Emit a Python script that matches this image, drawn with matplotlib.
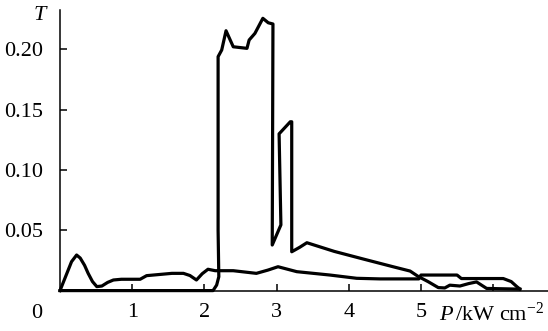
import matplotlib
matplotlib.use("Agg")
import matplotlib.pyplot as plt

plt.rcParams['font.family'] = ['Liberation Serif', 'DejaVu Serif']
plt.rcParams['mathtext.fontset'] = 'custom'
plt.rcParams['mathtext.rm'] = 'Liberation Serif'
plt.rcParams['mathtext.it'] = 'Liberation Serif:italic'

# Curve A: switching loop branch
P_a = [0, 2.12, 2.17, 2.20, 2.19, 2.19, 2.24, 2.30, 2.40, 2.59, 2.62, 2.70, 2.81, 2.885,
       2.95, 2.94, 3.06, 3.035, 3.19, 3.21, 3.21, 3.32, 3.42, 3.8, 4.2, 4.6, 4.85, 4.96,
       5.10, 5.24, 5.33, 5.40, 5.54, 5.66, 5.77, 5.84, 5.91, 6.37]
T_a = [0, 0, 0.0046, 0.0115, 0.05, 0.194, 0.1995, 0.2155, 0.2022, 0.2009, 0.2078, 0.2133,
       0.2258, 0.2221, 0.2211, 0.0378, 0.0545, 0.130, 0.140, 0.140, 0.0322, 0.0359, 0.0397,
       0.0325, 0.0262, 0.0200, 0.0162, 0.0118, 0.0074, 0.0025, 0.0022, 0.0045, 0.0038,
       0.0058, 0.0072, 0.0045, 0.0018, 0.0012]

# Curve B: lower branch
P_b = [0, 0.08, 0.16, 0.23, 0.28, 0.34, 0.39, 0.45, 0.51, 0.58, 0.66, 0.74, 0.85, 1.11,
       1.20, 1.55, 1.71, 1.80, 1.89, 1.97, 2.05, 2.15, 2.40, 2.72, 2.88, 3.02, 3.28, 3.74,
       4.11, 4.43, 4.97, 5.00, 5.50, 5.56, 6.14, 6.25, 6.33, 6.37]
T_b = [0, 0.012, 0.024, 0.0295, 0.027, 0.021, 0.0143, 0.0075, 0.0033, 0.0038, 0.0068,
       0.0088, 0.0094, 0.0094, 0.0124, 0.0143, 0.0143, 0.0125, 0.0088, 0.0140, 0.0177,
       0.0165, 0.0165, 0.0143, 0.0170, 0.0198, 0.0157, 0.0129, 0.0102, 0.0097, 0.0097,
       0.0129, 0.0129, 0.0100, 0.0100, 0.0075, 0.0032, 0.0013]

x_ticks = [1, 2, 3, 4, 5, 6]
x_labels = ['1', '2', '3', '4', '5', '']
y_ticks = [0.05, 0.10, 0.15, 0.20]
y_labels = ['0.05', '0.10', '0.15', '0.20']

fig = plt.figure(figsize=(5.48, 3.31), dpi=100)
ax = fig.add_axes([60/548, 1-290.6/331, 1-60/548, (290.6-10)/331])
ax.set_xlim(0, 6.76)
ax.set_ylim(0, 0.2327)

lw = 2.3
ax.plot(P_a, T_a, color='black', lw=lw, solid_joinstyle='round', clip_on=False)
ax.plot(P_b, T_b, color='black', lw=lw, solid_joinstyle='round', clip_on=False)

for s in ['top', 'right']:
    ax.spines[s].set_visible(False)
for s in ['left', 'bottom']:
    ax.spines[s].set_linewidth(1.1)

fs = 16
ax.set_xticks(x_ticks)
ax.set_xticklabels(x_labels)
ax.set_yticks(y_ticks)
ax.set_yticklabels(y_labels)
ax.tick_params(direction='in', length=5, width=1.1, labelsize=fs)
ax.tick_params(axis='x', pad=9)
ax.tick_params(axis='y', pad=12)

fig.text(36.7/548, 1-314/331, '0', fontsize=fs, ha='center', va='center')
fig.text(41/548, 1-15/331, r'$T$', fontsize=fs, ha='center', va='center')
fig.text(439/548, 1-314/331, r'$P\,/\mathrm{kW\ cm}^{-2}$', fontsize=fs, ha='left', va='center')

fig.savefig('out.png', dpi=100)
